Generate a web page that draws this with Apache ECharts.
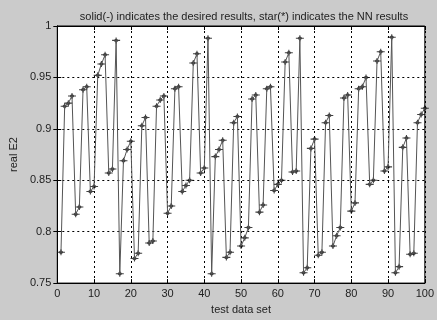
<!DOCTYPE html>
<html>
<head>
<meta charset="utf-8">
<script src="https://cdn.jsdelivr.net/npm/echarts@6/dist/echarts.min.js"></script>
<style>
  html, body { margin: 0; padding: 0; background: #cbcbcb; }
  #chart { width: 437px; height: 320px; }
</style>
</head>
<body>
<div id="chart"></div>
<script>
// test data index 1..100
const dataIndex = Array.from({length: 100}, (_, i) => i + 1)

// desired results (solid line)
const desired = [
  0.780, 0.922, 0.925, 0.932, 0.817, 0.824, 0.938, 0.941, 0.839, 0.844,
  0.952, 0.963, 0.972, 0.857, 0.861, 0.986, 0.759, 0.869, 0.880, 0.888,
  0.774, 0.779, 0.903, 0.911, 0.789, 0.791, 0.922, 0.928, 0.932, 0.818,
  0.825, 0.939, 0.941, 0.839, 0.845, 0.850, 0.964, 0.973, 0.857, 0.862,
  0.988, 0.759, 0.873, 0.880, 0.889, 0.775, 0.780, 0.906, 0.912, 0.786,
  0.794, 0.804, 0.929, 0.933, 0.819, 0.826, 0.939, 0.941, 0.840, 0.846,
  0.850, 0.965, 0.974, 0.858, 0.859, 0.988, 0.760, 0.765, 0.881, 0.890,
  0.777, 0.780, 0.906, 0.913, 0.786, 0.796, 0.804, 0.930, 0.933, 0.820,
  0.828, 0.939, 0.941, 0.950, 0.846, 0.850, 0.966, 0.975, 0.859, 0.863,
  0.989, 0.760, 0.766, 0.882, 0.891, 0.778, 0.779, 0.906, 0.914, 0.920
]

// NN results (star markers), they sit on the desired curve
const nnResults = desired.slice()

const xTicks = { min: 0, max: 100, interval: 10 }
const yTicks = { min: 0.75, max: 1, interval: 0.05 }

const chart = echarts.init(document.getElementById('chart'))

const font = 'Liberation Sans, Arial, sans-serif'
const dotted = { color: '#000', width: 1, type: [2, 3] }

chart.setOption({
  backgroundColor: '#cbcbcb',
  animation: false,
  title: {
    text: 'solid(-) indicates the desired results, star(*) indicates the NN results',
    left: 239,
    textAlign: 'center',
    top: 6,
    textStyle: { fontFamily: font, fontSize: 11, fontWeight: 'normal', color: '#222' }
  },
  grid: {
    left: 50, right: 7, top: 26, bottom: 29,
    show: true, backgroundColor: '#fff', borderColor: '#000', borderWidth: 1
  },
  xAxis: [{
    type: 'value',
    min: xTicks.min, max: xTicks.max, interval: xTicks.interval,
    name: 'test data set',
    nameLocation: 'middle',
    nameGap: 17,
    nameTextStyle: { fontFamily: font, fontSize: 11, color: '#222' },
    axisLine: { lineStyle: { color: '#000' } },
    axisTick: { inside: true, length: 4, lineStyle: { color: '#000' } },
    axisLabel: { fontFamily: font, fontSize: 11, color: '#222', margin: 5 },
    splitLine: { show: true, lineStyle: dotted }
  }, {
    type: 'value', position: 'top',
    min: xTicks.min, max: xTicks.max, interval: xTicks.interval,
    axisLine: { lineStyle: { color: '#000' } },
    axisTick: { inside: true, length: 4, lineStyle: { color: '#000' } },
    axisLabel: { show: false },
    splitLine: { show: false }
  }],
  yAxis: [{
    type: 'value',
    min: yTicks.min, max: yTicks.max, interval: yTicks.interval,
    name: 'real E2',
    nameLocation: 'middle',
    nameGap: 33,
    nameTextStyle: { fontFamily: font, fontSize: 11, color: '#222' },
    axisLine: { show: true, lineStyle: { color: '#000' } },
    axisTick: { show: true, inside: true, length: 4, lineStyle: { color: '#000' } },
    axisLabel: { fontFamily: font, fontSize: 11, color: '#222', margin: 6 },
    splitLine: { show: true, lineStyle: dotted }
  }, {
    type: 'value', position: 'right',
    min: yTicks.min, max: yTicks.max, interval: yTicks.interval,
    axisLine: { show: true, lineStyle: { color: '#000' } },
    axisTick: { show: true, inside: true, length: 4, lineStyle: { color: '#000' } },
    axisLabel: { show: false },
    splitLine: { show: false }
  }],
  series: [{
    name: 'desired',
    type: 'line',
    data: dataIndex.map((x, i) => [x, desired[i]]),
    showSymbol: false,
    lineStyle: { color: '#555', width: 1 }
  }, {
    name: 'NN',
    type: 'scatter',
    data: dataIndex.map((x, i) => [x, nnResults[i]]),
    symbol: 'path://M0,-3L3.2,0L0,3L-3.2,0Z M-4.5,-0.7L4.5,-0.7L4.5,0.7L-4.5,0.7Z M-0.6,-4L0.6,-4L0.6,4L-0.6,4Z',
    symbolSize: [8, 6],
    itemStyle: { color: '#111' }
  }]
})
</script>
</body>
</html>
